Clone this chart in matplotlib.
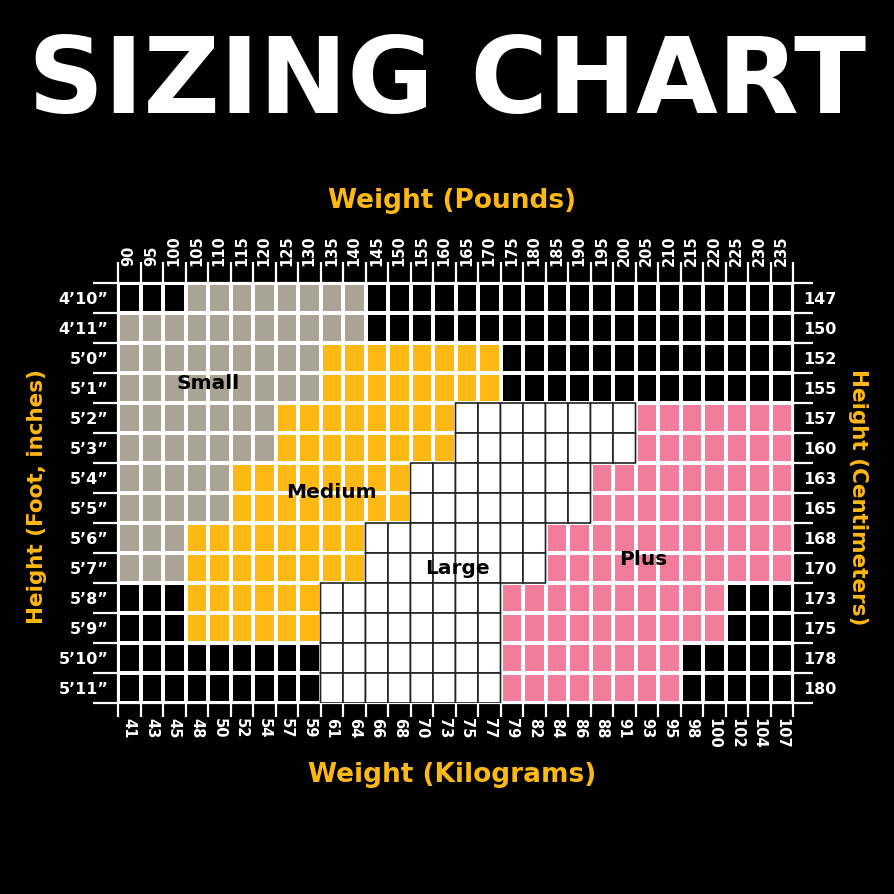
import numpy as np
import matplotlib
matplotlib.use("Agg")
import matplotlib.pyplot as plt
from matplotlib.colors import ListedColormap

# weights (columns) and heights (rows)
lbs = list(range(90, 240, 5))
kg = [41, 43, 45, 48, 50, 52, 54, 57, 59, 61, 64, 66, 68, 70, 73, 75, 77,
      79, 82, 84, 86, 88, 91, 93, 95, 98, 100, 102, 104, 107]
heights_ft = ["4’10”", "4’11”", "5’0”", "5’1”", "5’2”", "5’3”", "5’4”",
              "5’5”", "5’6”", "5’7”", "5’8”", "5’9”", "5’10”", "5’11”"]
heights_cm = [147, 150, 152, 155, 157, 160, 163, 165, 168, 170, 173, 175, 178, 180]

# weight range (lbs) of each size for every height row, None = not offered
small = [(105, 140), (90, 140), (90, 130), (90, 130), (90, 120), (90, 120),
         (90, 110), (90, 110), (90, 100), (90, 100), None, None, None, None]
medium = [None, None, (135, 170), (135, 170), (125, 160), (125, 160),
          (115, 150), (115, 150), (105, 140), (105, 140), (105, 130), (105, 130),
          None, None]
large = [None, None, None, None, (165, 200), (165, 200), (155, 190), (155, 190),
         (145, 180), (145, 180), (135, 170), (135, 170), (135, 170), (135, 170)]
plus = [None, None, None, None, (205, 235), (205, 235), (195, 235), (195, 235),
        (185, 235), (185, 235), (175, 220), (175, 220), (175, 210), (175, 210)]

sizes = ["Small", "Medium", "Large", "Plus"]
colors = ["black", "#aaa497", "#fdb813", "white", "#f27d9b"]
yellow = "#fdb813"

code = np.zeros((len(heights_ft), len(lbs)), dtype=int)
for k, spans in enumerate([small, medium, large, plus], start=1):
    for r, span in enumerate(spans):
        if span:
            c0 = lbs.index(span[0])
            c1 = lbs.index(span[1])
            code[r, c0:c1 + 1] = k

fig = plt.figure(figsize=(8.94, 8.94), dpi=100, facecolor="black")
ax = fig.add_axes([118 / 894, 191 / 894, 675 / 894, 420 / 894])
ax.set_facecolor("black")

nx, ny = len(lbs), len(heights_ft)
xe = np.arange(nx + 1)
ye = np.arange(ny + 1)

# grid lines running out past the cells
ax.vlines(xe, -0.7, ny + 0.47, colors="white", lw=1.6, clip_on=False, zorder=0.5)
ax.hlines(ye, -1.1, nx + 0.9, colors="white", lw=1.6, clip_on=False, zorder=0.5)

cmap = ListedColormap(colors)
ax.pcolormesh(xe, ye, code, cmap=cmap, vmin=-0.5, vmax=4.5,
              edgecolors="white", linewidth=1.6, zorder=1)
large_cells = np.ma.masked_where(code != 3, code)
ax.pcolor(xe, ye, large_cells, cmap=cmap, vmin=-0.5, vmax=4.5,
          edgecolors="#222222", linewidth=1.2, zorder=2)

ax.set_xlim(0, nx)
ax.set_ylim(ny, 0)
for s in ax.spines.values():
    s.set_visible(False)

# size names
label_pos = {"Small": (4.0, 3.35), "Medium": (9.5, 6.97),
             "Large": (15.07, 9.5), "Plus": (23.33, 9.23)}
for name in sizes:
    x, y = label_pos[name]
    ax.text(x, y, name, ha="center", va="center", fontsize=14.5,
            fontweight="bold", color="black", zorder=3)

tick_font = dict(fontsize=10.5, fontweight="semibold")

ax.set_xticks(np.arange(nx) + 0.5)
ax.set_xticklabels([str(v) for v in lbs], **tick_font)
ax.xaxis.tick_top()
ax.tick_params(axis="x", length=0, pad=12, labelrotation=90, colors="white")

ax.set_yticks(np.arange(ny) + 0.5)
ax.set_yticklabels(heights_ft, fontsize=11.5, fontweight="semibold")
ax.tick_params(axis="y", length=0, pad=7, colors="white")

secx = ax.secondary_xaxis("bottom")
secx.set_xticks(np.arange(nx) + 0.5)
secx.set_xticklabels([str(v) for v in kg], **tick_font)
secx.tick_params(length=0, pad=11, labelrotation=-90, colors="white")
for s in secx.spines.values():
    s.set_visible(False)

secy = ax.secondary_yaxis("right")
secy.set_yticks(np.arange(ny) + 0.5)
secy.set_yticklabels([str(v) for v in heights_cm], fontsize=11.5, fontweight="semibold")
secy.tick_params(length=0, pad=7, colors="white")
for s in secy.spines.values():
    s.set_visible(False)

fig.text(0.5, 1 - 113 / 894, "SIZING CHART", ha="center", va="baseline",
         fontsize=76, fontweight="bold", color="white")
fig.text(452 / 894, 1 - 201 / 894, "Weight (Pounds)", ha="center", va="center",
         fontsize=19, fontweight="bold", color=yellow)
fig.text(452 / 894, 1 - 775 / 894, "Weight (Kilograms)", ha="center", va="center",
         fontsize=19, fontweight="bold", color=yellow)
fig.text(37 / 894, 1 - 497 / 894, "Height (Foot, inches)", ha="center", va="center",
         rotation=90, fontsize=15.5, fontweight="bold", color=yellow)
fig.text(858 / 894, 1 - 497 / 894, "Height (Centimeters)", ha="center", va="center",
         rotation=-90, fontsize=15.5, fontweight="bold", color=yellow)

fig.savefig("out.png", dpi=100, facecolor="black")
